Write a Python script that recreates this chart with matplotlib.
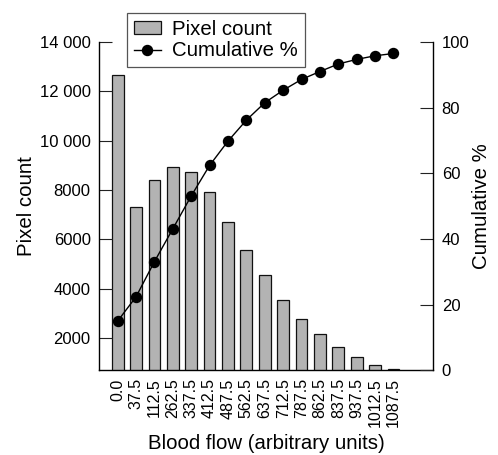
import matplotlib
matplotlib.use("Agg")
import matplotlib.pyplot as plt
from matplotlib.patches import Patch
from matplotlib.lines import Line2D

plt.rcParams['font.family'] = ['Liberation Sans', 'DejaVu Sans']

categories = ["0.0", "37.5", "112.5", "262.5", "337.5", "412.5", "487.5", "562.5",
              "637.5", "712.5", "787.5", "862.5", "837.5", "937.5", "1012.5", "1087.5"]
pixel_count = [12680, 7290, 8410, 8940, 8740, 7910, 6690, 5580,
               4550, 3545, 2760, 2165, 1635, 1215, 920, 740]
cumulative_pct = [15.0, 22.4, 33.1, 43.1, 53.1, 62.4, 69.8, 76.2,
                  81.5, 85.3, 88.6, 91.0, 93.3, 94.7, 95.8, 96.5]
left_ticks = [2000, 4000, 6000, 8000, 10000, 12000, 14000]
left_ticklabels = ["2000", "4000", "6000", "8000", "10 000", "12 000", "14 000"]
right_ticks = [0, 20, 40, 60, 80, 100]

LABEL_FS = 14.7
TICK_FS = 12

fig = plt.figure(figsize=(4.98, 4.55), dpi=100)
ax = fig.add_axes([0.1994, 0.1862, 0.6707, 0.7215])
ax2 = ax.twinx()

x = list(range(len(categories)))
bar_color = '#b3b3b3'
ax.bar(x, pixel_count, width=0.64, color=bar_color, edgecolor='#111111',
       linewidth=0.9, bottom=0)
ax.set_xlim(-1.0, 17.17)
ax.set_ylim(690, 14000)

ax2.plot(x, cumulative_pct, color='black', linewidth=1.0, marker='o',
         markersize=7.2, markerfacecolor='black', markeredgecolor='black')
ax2.set_ylim(0, 100)

for a in (ax, ax2):
    a.spines['top'].set_visible(False)
    for s in a.spines.values():
        s.set_linewidth(1.0)
ax.spines['right'].set_visible(False)
ax2.spines['left'].set_visible(False)
ax2.spines['bottom'].set_visible(False)

ax.set_yticks(left_ticks)
ax.set_yticklabels(left_ticklabels)
ax.tick_params(axis='y', direction='in', length=9.7, width=0.8, pad=6.2,
               labelsize=TICK_FS, color='#222222')
ax.set_xticks(x)
ax.set_xticklabels(categories, rotation=90)
ax.tick_params(axis='x', length=0, pad=5.8, labelsize=11.5)

ax2.set_yticks(right_ticks)
ax2.tick_params(axis='y', direction='in', length=9.7, width=0.8, pad=6.0,
                labelsize=TICK_FS, color='#222222')

ax.set_ylabel("Pixel count", fontsize=LABEL_FS, labelpad=3)
ax2.set_ylabel("Cumulative %", fontsize=LABEL_FS, labelpad=2)
ax.set_xlabel("Blood flow (arbitrary units)", fontsize=LABEL_FS, labelpad=5)

handles = [Patch(facecolor=bar_color, edgecolor='#111111', linewidth=0.9),
           Line2D([], [], color='black', linewidth=1.0, marker='o',
                  markersize=7.2, markerfacecolor='black')]
leg = ax2.legend(handles, ["Pixel count", "Cumulative %"], loc='upper left',
                 bbox_to_anchor=(0.0838, 1.0874), borderaxespad=0,
                 fontsize=LABEL_FS, frameon=True, fancybox=False, framealpha=1,
                 edgecolor='#555555', borderpad=0.33, labelspacing=0.12,
                 handlelength=1.31, handleheight=0.6, handletextpad=0.56)
leg.get_frame().set_linewidth(0.9)

fig.savefig("out.png", dpi=100)
